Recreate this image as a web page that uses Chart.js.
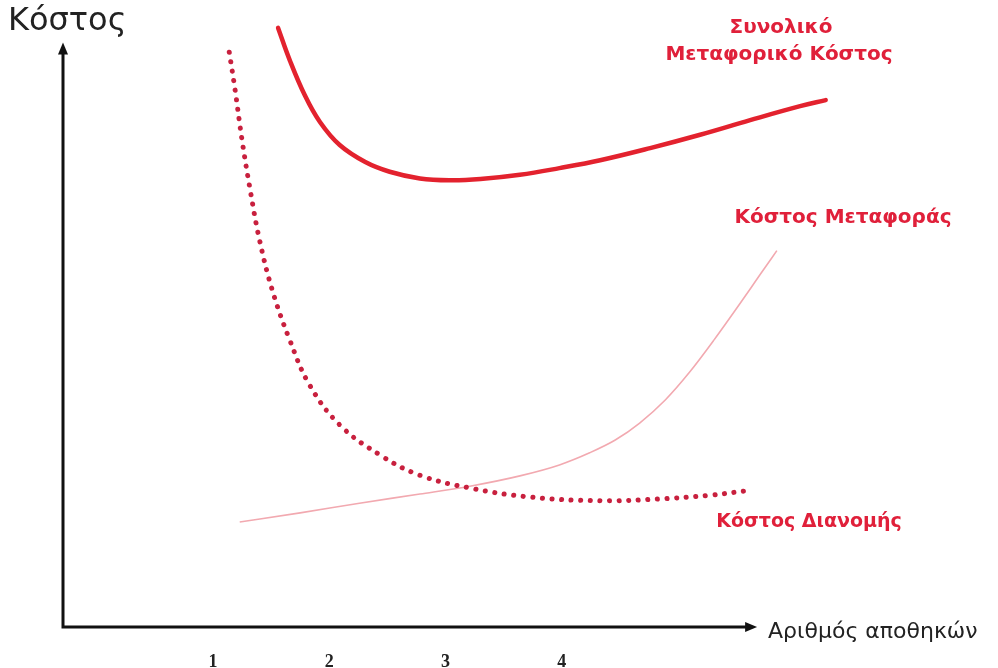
<!DOCTYPE html>
<html>
<head>
<meta charset="utf-8">
<script src="https://cdn.jsdelivr.net/npm/chart.js@4.4.1/dist/chart.umd.min.js"></script>
<style>
  html, body { margin: 0; padding: 0; background: #fff; }
  #wrap { width: 998px; height: 668px; }
</style>
</head>
<body>
<div id="wrap"><canvas id="c"></canvas></div>
<script>
// values (x = number of warehouses, y = cost, arbitrary units)
const warehouseTicks = [1, 2, 3, 4];

const totalX = [1.56, 1.66, 1.79, 1.92, 2.09, 2.31, 2.52, 2.78, 3.04, 3.30, 3.64, 3.98, 4.33, 4.76, 5.19, 5.62, 6.05, 6.27];
const totalY = [98.7, 93.4, 87.6, 83.2, 79.4, 76.6, 75.0, 73.9, 73.6, 73.8, 74.5, 75.6, 76.9, 78.9, 81.1, 83.5, 85.8, 86.8];

const distX = [1.14, 1.19, 1.25, 1.32, 1.40, 1.51, 1.66, 1.83, 2.09, 2.44, 2.78, 3.21, 3.73, 4.33, 4.84, 5.27, 5.57];
const distY = [94.7, 88.5, 80.2, 72.0, 63.8, 55.5, 47.3, 39.9, 33.3, 28.3, 25.0, 22.9, 21.4, 20.8, 21.1, 21.7, 22.4];

const transX = [1.23, 1.75, 2.26, 2.78, 3.21, 3.64, 3.98, 4.24, 4.46, 4.67, 4.89, 5.10, 5.31, 5.53, 5.70, 5.85];
const transY = [17.3, 18.8, 20.4, 21.9, 23.2, 24.9, 26.7, 28.7, 30.8, 33.6, 37.4, 42.0, 47.3, 53.2, 57.9, 62.0];

const zip = (xs, ys) => xs.map((x, i) => ({x, y: ys[i]}));

// axes with arrows, axis titles, tick numbers, curve labels
const decorations = {
  id: 'decorations',
  afterDatasetsDraw(chart) {
    const {ctx, scales: {x, y}} = chart;
    const x0 = x.getPixelForValue(x.min);
    const y0 = y.getPixelForValue(0);
    const xEnd = x.getPixelForValue(5.68);
    const yEnd = y.getPixelForValue(96.3);
    ctx.save();
    ctx.strokeStyle = '#111';
    ctx.fillStyle = '#111';
    ctx.lineWidth = 3;
    ctx.beginPath();
    ctx.moveTo(x0, y0 + 1.5);
    ctx.lineTo(x0, yEnd + 8);
    ctx.moveTo(x0 - 1.5, y0);
    ctx.lineTo(xEnd - 8, y0);
    ctx.stroke();
    // arrow heads
    ctx.beginPath();
    ctx.moveTo(x0, yEnd);
    ctx.lineTo(x0 - 5, yEnd + 12);
    ctx.lineTo(x0 + 5, yEnd + 12);
    ctx.closePath();
    ctx.fill();
    ctx.beginPath();
    ctx.moveTo(xEnd, y0);
    ctx.lineTo(xEnd - 12, y0 - 5);
    ctx.lineTo(xEnd - 12, y0 + 5);
    ctx.closePath();
    ctx.fill();

    // axis titles
    ctx.textBaseline = 'middle';
    ctx.textAlign = 'left';
    ctx.fillStyle = '#222';
    ctx.font = '32px "DejaVu Sans", sans-serif';
    ctx.fillText('Κόστος', 8, 22);
    ctx.font = '22px "DejaVu Sans", sans-serif';
    ctx.fillText('Αριθμός αποθηκών', 768, 632);

    // tick numbers under the x axis
    ctx.textAlign = 'center';
    ctx.font = 'bold 18px "Liberation Serif", serif';
    ctx.fillStyle = '#222';
    warehouseTicks.forEach(t => ctx.fillText(String(t), x.getPixelForValue(t), 662));

    // curve labels
    ctx.fillStyle = '#e0203a';
    ctx.font = 'bold 20px "DejaVu Sans", sans-serif';
    ctx.fillText('Συνολικό', 781, 28);
    ctx.fillText('Μεταφορικό Κόστος', 779, 55);
    ctx.fillText('Κόστος Μεταφοράς', 843, 218);
    ctx.font = 'bold 19px "DejaVu Sans", sans-serif';
    ctx.fillText('Κόστος Διανομής', 809, 522);
    ctx.restore();
  }
};

new Chart(document.getElementById('c'), {
  type: 'line',
  data: {
    datasets: [{
      label: 'Συνολικό Μεταφορικό Κόστος',
      data: zip(totalX, totalY),
      borderColor: '#e3222e',
      borderWidth: 4.5,
      tension: 0.4,
      pointRadius: 0,
      borderCapStyle: 'round'
    }, {
      label: 'Κόστος Διανομής',
      data: zip(distX, distY),
      borderColor: '#c8203e',
      borderWidth: 5,
      borderDash: [0.1, 9.5],
      borderCapStyle: 'round',
      tension: 0.4,
      pointRadius: 0
    }, {
      label: 'Κόστος Μεταφοράς',
      data: zip(transX, transY),
      borderColor: '#f2a9b0',
      borderWidth: 1.6,
      cubicInterpolationMode: 'monotone',
      pointRadius: 0
    }]
  },
  options: {
    responsive: true,
    maintainAspectRatio: false,
    animation: false,
    layout: {padding: {left: 63, right: 163, top: 20, bottom: 41}},
    plugins: {legend: {display: false}, tooltip: {enabled: false}},
    scales: {
      x: {type: 'linear', min: -0.29, max: 6.35, display: false},
      y: {min: 0, max: 100, display: false}
    }
  },
  plugins: [decorations]
});
</script>
</body>
</html>
